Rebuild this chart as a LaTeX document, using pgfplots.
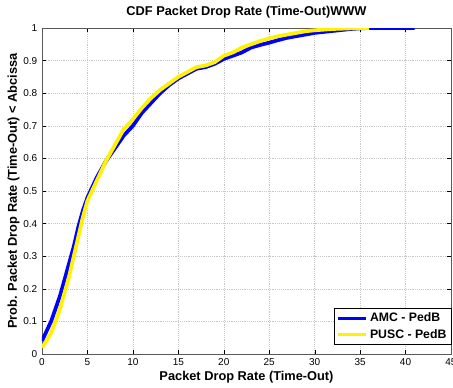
\documentclass[border=0pt]{standalone}
\usepackage{fontspec}
\setmainfont{Liberation Sans}
\usepackage{pgfplots}
\pgfplotsset{compat=1.18}
\begin{document}
\begin{tikzpicture}
\begin{axis}[
  at={(0,0)}, anchor=south west,
  scale only axis,
  width=306.75pt, height=244.5pt,
  xmin=0, xmax=45, ymin=0, ymax=1,
  xtick={0,5,...,45},
  ytick={0,0.1,...,1},
  yticklabels={0,0.1,0.2,0.3,0.4,0.5,0.6,0.7,0.8,0.9,1},
  grid=major,
  major grid style={densely dotted, gray!45},
  tick align=inside,
  major tick length=3pt,
  tick style={black},
  axis line style={gray!70!black},
  /pgf/number format/assume math mode=true,
  tick label style={font=\fontsize{7.5}{8}\selectfont},
  title={\bfseries CDF Packet Drop Rate (Time-Out)WWW},
  title style={font=\fontsize{9.6}{10}\selectfont, yshift=-2pt},
  xlabel={\bfseries Packet Drop Rate (Time-Out)},
  ylabel={\bfseries Prob. Packet Drop Rate (Time-Out) < Abcissa},
  label style={font=\fontsize{9.6}{10}\selectfont},
  xlabel style={yshift=3pt},
  ylabel style={yshift=-4pt},
  legend style={at={(1,0)}, anchor=south east, xshift=0.75pt, yshift=6.75pt,
    font=\fontsize{9.2}{11}\selectfont\bfseries, draw=black, inner xsep=2pt, inner ysep=1.5pt,
    row sep=0pt, legend cell align=left},
  legend image code/.code={\draw[#1, line width=2.6pt] (0cm,0cm) -- (0.72cm,0cm);},
]
\addplot[blue, line width=2.8pt, line join=round] coordinates {
(0,0.04) (0.5,0.07) (1,0.10) (1.5,0.14) (2,0.18) (2.5,0.23) (3,0.28) (3.5,0.33)
(4,0.39) (4.5,0.44) (5,0.48) (6,0.54) (7,0.59) (8,0.63) (9,0.67) (10,0.70)
(11,0.74) (12,0.77) (13,0.80) (14,0.825) (15,0.845) (16,0.86) (17,0.875)
(18,0.88) (19,0.89) (20,0.905) (21,0.915) (22,0.925) (23,0.94) (24,0.948)
(25,0.955) (26,0.963) (27,0.97) (28,0.975) (29,0.98) (30,0.985) (31,0.988)
(32,0.991) (33,0.994) (34,0.997) (35,0.999) (36,1.0) (41,1.0)
};
\addlegendentry{AMC - PedB}
\addplot[yellow, line width=2.8pt, line join=round] coordinates {
(0,0.02) (0.5,0.04) (1,0.065) (1.5,0.10) (2,0.14) (2.5,0.19) (3,0.24) (3.5,0.30)
(4,0.36) (4.5,0.42) (5,0.47) (6,0.53) (7,0.59) (8,0.64) (9,0.69) (10,0.72)
(11,0.755) (12,0.785) (13,0.81) (14,0.83) (15,0.85) (16,0.865) (17,0.88)
(18,0.885) (19,0.895) (20,0.915) (21,0.925) (22,0.94) (23,0.95) (24,0.96)
(25,0.968) (26,0.975) (27,0.98) (28,0.985) (29,0.99) (30,0.993) (31,0.995)
(32,0.997) (33,0.998) (34,0.999) (35,1.0) (36,1.0)
};
\addlegendentry{PUSC - PedB}
\end{axis}
\pgfresetboundingbox
\path (-31.5pt,-24.75pt) rectangle (308.25pt,265.5pt);
\end{tikzpicture}
\end{document}
